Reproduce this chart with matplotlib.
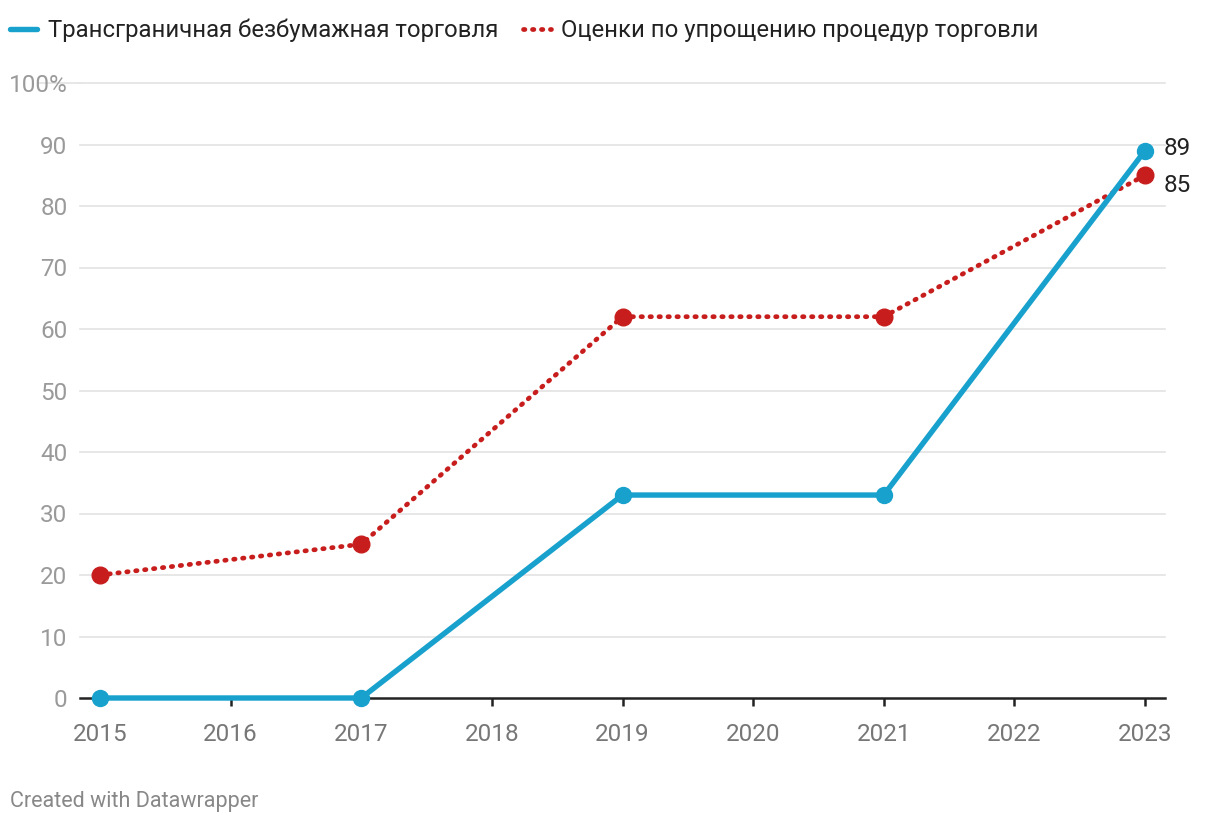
import matplotlib.pyplot as plt

plt.rcParams['font.family'] = ['Roboto', 'DejaVu Sans']

years = [2015, 2017, 2019, 2021, 2023]
paperless = [0, 0, 33, 33, 89]
facilitation = [20, 25, 62, 62, 85]
year_ticks = list(range(2015, 2024))
y_ticks = list(range(0, 101, 10))
y_labels = [str(v) for v in y_ticks[:-1]] + ['100%']
series_names = ['Трансграничная безбумажная торговля', 'Оценки по упрощению процедур торговли']

BLUE = '#18a1cd'
RED = '#c71e1d'

W, H = 1220, 824
fig = plt.figure(figsize=(W / 100, H / 100), dpi=100)
# axes box in pixels: left 80, right 1165, top 83, bottom 698
ax = fig.add_axes([80 / W, 1 - 698 / H, (1165 - 80) / W, (698 - 83) / H])

px_per_year = (1145 - 100) / 8
ax.set_xlim(2015 - 20 / px_per_year, 2023 + 20 / px_per_year)
ax.set_ylim(0, 100)

ax.plot(years, facilitation, color=RED, lw=3.4, ls=(0, (0.3, 1.6)), dash_capstyle='round',
        marker='o', ms=12, mec=RED, mfc=RED, clip_on=False, zorder=3, label=series_names[1])
ax.plot(years, paperless, color=BLUE, lw=3.9, solid_capstyle='round',
        marker='o', ms=11.5, mec=BLUE, mfc=BLUE, clip_on=False, zorder=4, label=series_names[0])

ax.text(years[-1] + 19 / px_per_year, paperless[-1] + 0.4, str(paperless[-1]), fontsize=17.5,
        color='#222', va='center', ha='left')
ax.text(years[-1] + 19 / px_per_year, facilitation[-1] - 1.7, str(facilitation[-1]), fontsize=17.5,
        color='#222', va='center', ha='left')

for s in ['top', 'right', 'left']:
    ax.spines[s].set_visible(False)
ax.spines['bottom'].set_color('#222')
ax.spines['bottom'].set_linewidth(1.8)
ax.spines['bottom'].set_zorder(2)

ax.set_yticks(y_ticks)
ax.set_yticklabels(y_labels)
ax.tick_params(axis='y', length=0, pad=9, labelsize=17.5, labelcolor='#9a9a9a')
for v in y_ticks[1:]:
    ax.axhline(v, color='#e3e3e3', lw=1.2, zorder=0, clip_on=False)
# the 100% gridline reaches further left, up to its label
ax.plot([(38 - 80) / 1085, 0], [100, 100], transform=ax.get_yaxis_transform(),
        color='#e3e3e3', lw=1.2, clip_on=False, zorder=0)

ax.set_xticks(year_ticks)
ax.tick_params(axis='x', length=6, width=1.8, color='#222', pad=12, labelsize=17.5, labelcolor='#777')

handles, labels = ax.get_legend_handles_labels()
fig.legend(handles[::-1], labels[::-1], loc='upper left', bbox_to_anchor=(10 / W, 1 - 19 / H),
           ncol=2, frameon=False, fontsize=17.2, handlelength=1.15, handletextpad=0.45,
           columnspacing=1.03, labelcolor='#222', borderaxespad=0, borderpad=0)
leg = fig.legends[0]
for h in leg.legend_handles:
    h.set_marker('')

fig.text(10 / W, 1 - 801 / H, 'Created with Datawrapper', fontsize=15.5, color='#888', va='center')

fig.savefig('out.png', dpi=100)
